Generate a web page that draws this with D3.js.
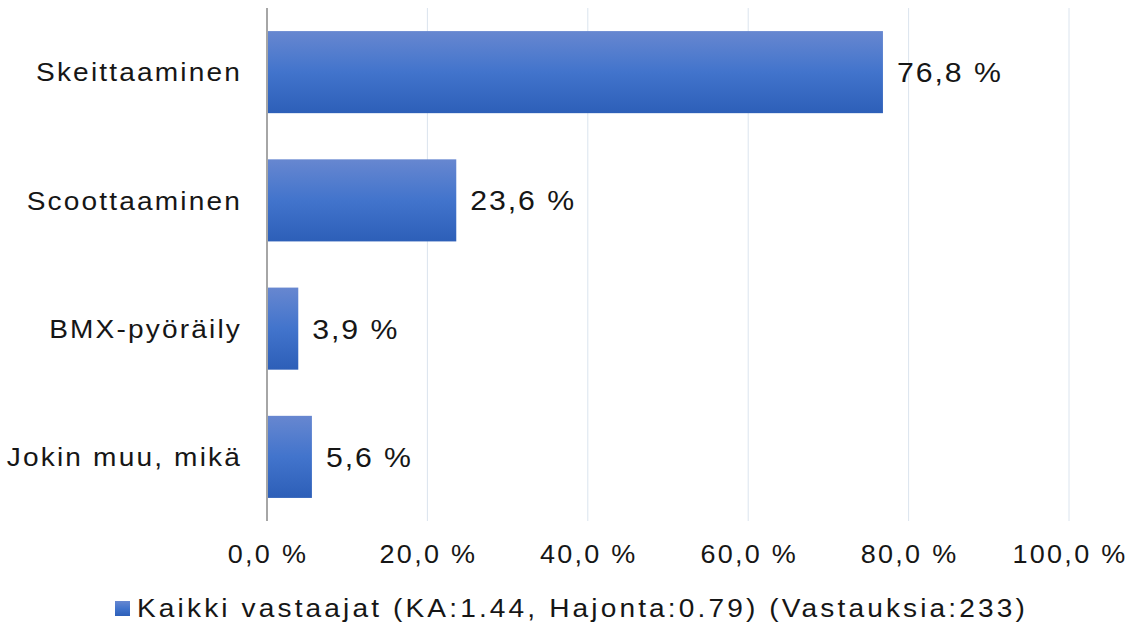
<!DOCTYPE html>
<html>
<head>
<meta charset="utf-8">
<script src="https://cdn.jsdelivr.net/npm/d3@7"></script>
<style>
  body { margin: 0; background: #fff; }
  svg text { font-family: "Liberation Sans", Arial, sans-serif; fill: #161616; }
</style>
</head>
<body>
<div id="chart"></div>
<script>
// Chart data
const categories = ["Skeittaaminen", "Scoottaaminen", "BMX-pyöräily", "Jokin muu, mikä"];
const values = [76.8, 23.6, 3.9, 5.6];
const ticks = [0, 20, 40, 60, 80, 100];
const legendLabel = "Kaikki vastaajat (KA:1.44, Hajonta:0.79) (Vastauksia:233)";

const width = 1130, height = 627;
const margin = { top: 8, right: 61, bottom: 106, left: 267 };

const fmt = v => v.toFixed(1).replace(".", ",") + " %";

// the source image text is a bit wide and letter-spaced
const SX = 1.08;
const stretch = (px, py) => `translate(${px},${py}) scale(${SX},1)`;

const svg = d3.select("#chart").append("svg")
  .attr("width", width)
  .attr("height", height);

// Gradient for bars
const defs = svg.append("defs");
const grad = defs.append("linearGradient")
  .attr("id", "barGrad")
  .attr("x1", "0%").attr("y1", "0%")
  .attr("x2", "0%").attr("y2", "100%");
grad.append("stop").attr("offset", "0%").attr("stop-color", "#6787d0");
grad.append("stop").attr("offset", "50%").attr("stop-color", "#4274cc");
grad.append("stop").attr("offset", "100%").attr("stop-color", "#2d5fb8");

const x = d3.scaleLinear()
  .domain([0, 100])
  .range([margin.left, width - margin.right]);

const y = d3.scaleBand()
  .domain(categories)
  .range([margin.top, height - margin.bottom])
  .paddingInner(0.36)
  .paddingOuter(0.18);

// Gridlines
svg.append("g")
  .selectAll("line")
  .data(ticks.slice(1))
  .enter().append("line")
  .attr("x1", d => x(d)).attr("x2", d => x(d))
  .attr("y1", margin.top).attr("y2", height - margin.bottom)
  .attr("stroke", "#dbe4ee")
  .attr("stroke-width", 1);

// Bars
svg.append("g")
  .selectAll("rect")
  .data(values)
  .enter().append("rect")
  .attr("x", x(0))
  .attr("y", (d, i) => y(categories[i]))
  .attr("width", d => x(d) - x(0))
  .attr("height", y.bandwidth())
  .attr("fill", "url(#barGrad)");

// Value axis line
svg.append("line")
  .attr("x1", x(0)).attr("x2", x(0))
  .attr("y1", margin.top).attr("y2", height - margin.bottom)
  .attr("stroke", "#a6a6a6")
  .attr("stroke-width", 2);

// Value labels
svg.append("g")
  .selectAll("text")
  .data(values)
  .enter().append("text")
  .attr("transform", (d, i) => stretch(x(d) + 14, y(categories[i]) + y.bandwidth() / 2))
  .attr("dy", "0.36em")
  .style("font-size", "28px")
  .style("letter-spacing", "1.8px")
  .text(d => fmt(d));

// Category labels
svg.append("g")
  .selectAll("text")
  .data(categories)
  .enter().append("text")
  .attr("transform", d => stretch(242, y(d) + y.bandwidth() / 2))
  .attr("dy", "0.36em")
  .attr("text-anchor", "end")
  .style("font-size", "26px")
  .style("letter-spacing", "2px")
  .text(d => d);

// Tick labels
svg.append("g")
  .selectAll("text")
  .data(ticks)
  .enter().append("text")
  .attr("transform", d => stretch(x(d) + 1, 563))
  .attr("text-anchor", "middle")
  .style("font-size", "25px")
  .style("letter-spacing", "2.1px")
  .text(d => fmt(d));

// Legend
svg.append("rect")
  .attr("x", 115).attr("y", 601)
  .attr("width", 15).attr("height", 15)
  .attr("fill", "url(#barGrad)");
svg.append("text")
  .attr("transform", stretch(137, 617))
  .style("font-size", "26px")
  .style("letter-spacing", "2.9px")
  .text(legendLabel);
</script>
</body>
</html>
